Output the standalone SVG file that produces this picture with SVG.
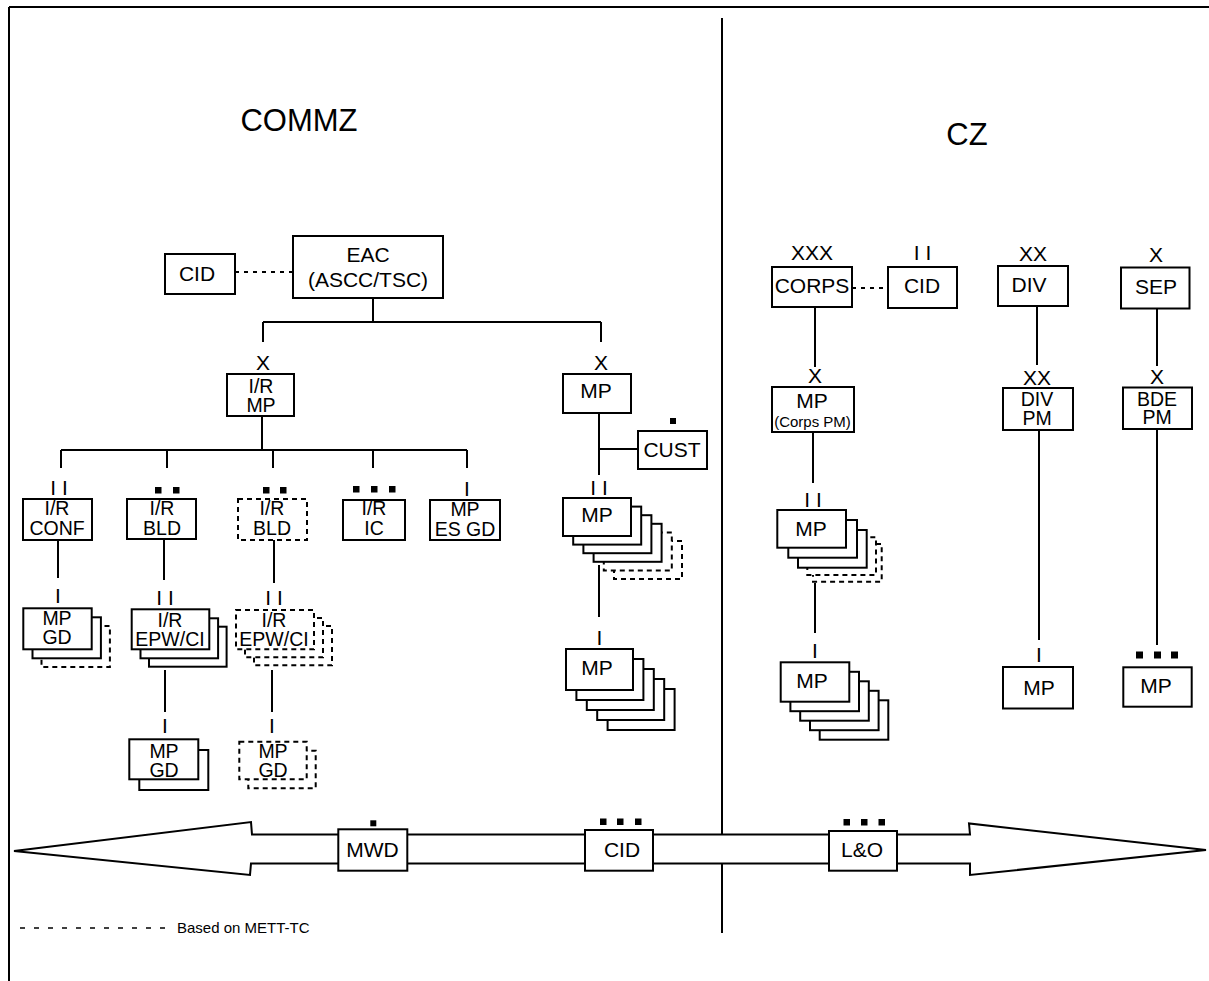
<svg xmlns="http://www.w3.org/2000/svg" width="1209" height="981" viewBox="0 0 1209 981">
<style>
.box{fill:#fff;stroke:#000;stroke-width:2}
.dbox{fill:#fff;stroke:#000;stroke-width:2;stroke-dasharray:5 4}
.ln{fill:none;stroke:#000;stroke-width:2}
.dot{fill:none;stroke:#000;stroke-width:2;stroke-dasharray:4 5}
.sq{fill:#000}
text{font-family:"Liberation Sans",Arial,Helvetica,sans-serif;font-size:21px;text-anchor:middle;fill:#000}
.t2{font-size:19.5px}
.sm{font-size:15px}
.big{font-size:31px}
.leg{font-size:15px;text-anchor:start}
</style>
<rect x="0" y="0" width="1209" height="981" fill="#fff"/>
<g id="frame">
<path class="ln" d="M9 7H1209M9 7V981"/>
<path class="ln" d="M722 18V933"/>
<text class="big" x="299" y="131">COMMZ</text>
<text class="big" x="967" y="145">CZ</text>
</g>
<g id="connectors">
<path class="dot" d="M235 272H293"/>
<path class="ln" d="M373 298V322M263 322H601M263 322V342M601 322V342"/>
<path class="ln" d="M262 416V450M61 450H467M61 450V468M167 450V468M273 450V468M373 450V468M467 450V468"/>
<path class="ln" d="M58 540V578M164 539V580M274 540V583"/>
<path class="ln" d="M165 670V712M272 670V712"/>
<path class="ln" d="M599 413V475M599 449H638M599 565V617"/>
<path class="dot" d="M852 288H888"/>
<path class="ln" d="M815 307V367M813 432V483M815 583V633"/>
<path class="ln" d="M1037 306V365M1039 430V640M1157 308V366M1157 429V645"/>
</g>
<g id="cid-left"><rect class="box" x="165" y="254" width="70" height="40"/><text x="197" y="281">CID</text></g>
<g id="eac"><rect class="box" x="293" y="236" width="150" height="62"/><text x="368" y="262">EAC</text><text x="368" y="287">(ASCC/TSC)</text></g>
<g id="ir-mp"><text x="263" y="370">X</text><rect class="box" x="227" y="374" width="67" height="42"/><text class="t2" x="261" y="393">I/R</text><text class="t2" x="261" y="411.5">MP</text></g>
<g id="mp-bde"><text x="601" y="370">X</text><rect class="box" x="563" y="374" width="68" height="39"/><text x="596" y="398">MP</text></g>
<g id="cust"><rect class="sq" x="670" y="418" width="6" height="6"/><rect class="box" x="638" y="431" width="69" height="38"/><text x="672" y="457">CUST</text></g>
<g id="ir-conf"><text x="59" y="495">I I</text><rect class="box" x="23" y="499" width="69" height="41"/><text class="t2" x="57" y="515">I/R</text><text class="t2" x="57" y="534.5">CONF</text></g>
<g id="ir-bld"><rect class="sq" x="155" y="487" width="6.5" height="6.5"/><rect class="sq" x="173" y="487" width="6.5" height="6.5"/><rect class="box" x="127" y="499" width="69" height="40"/><text class="t2" x="162" y="515">I/R</text><text class="t2" x="162" y="534.5">BLD</text></g>
<g id="ir-bld-mett"><rect class="sq" x="263" y="487" width="6.5" height="6.5"/><rect class="sq" x="280" y="487" width="6.5" height="6.5"/><rect class="dbox" x="238" y="499" width="69" height="41"/><text class="t2" x="272" y="515">I/R</text><text class="t2" x="272" y="534.5">BLD</text></g>
<g id="ir-ic"><rect class="sq" x="353" y="486" width="6.5" height="6.5"/><rect class="sq" x="371" y="486" width="6.5" height="6.5"/><rect class="sq" x="389" y="486" width="6.5" height="6.5"/><rect class="box" x="343" y="500" width="62" height="40"/><text class="t2" x="374" y="515">I/R</text><text class="t2" x="374" y="534.5">IC</text></g>
<g id="mp-esgd"><text x="467" y="496">I</text><rect class="box" x="430" y="500" width="70" height="40"/><text class="t2" x="465" y="515.5">MP</text><text class="t2" x="465" y="536">ES GD</text></g>
<g id="mp-gd-conf"><text x="58" y="603">I</text><rect class="dbox" x="41.5" y="626" width="68.4" height="41"/><rect class="box" x="32.5" y="617.3" width="68.4" height="41"/><rect class="box" x="23.3" y="608.3" width="68.4" height="41"/><text class="t2" x="57" y="625">MP</text><text class="t2" x="57" y="643.5">GD</text></g>
<g id="ir-epw"><text x="165" y="605">I I</text><rect class="box" x="149" y="626.7" width="77.6" height="40"/><rect class="box" x="140.5" y="618.3" width="77.6" height="40"/><rect class="box" x="131.7" y="609.3" width="77.6" height="40"/><text class="t2" x="170" y="626.5">I/R</text><text class="t2" x="170" y="646">EPW/CI</text></g>
<g id="ir-epw-mett"><text x="274" y="605">I I</text><rect class="dbox" x="254" y="626" width="78" height="39.3"/><rect class="dbox" x="245" y="618" width="78" height="39.3"/><rect class="dbox" x="236" y="610" width="78" height="39.3"/><text class="t2" x="274" y="626.5">I/R</text><text class="t2" x="274" y="646">EPW/CI</text></g>
<g id="mp-gd-bld"><text x="165" y="733">I</text><rect class="box" x="139.3" y="750" width="69" height="40"/><rect class="box" x="129.3" y="739.3" width="69" height="40"/><text class="t2" x="164" y="758">MP</text><text class="t2" x="164" y="777">GD</text></g>
<g id="mp-gd-mett"><text x="272" y="733">I</text><rect class="dbox" x="248.3" y="750.7" width="67.4" height="37.6"/><rect class="dbox" x="239.3" y="741.7" width="67.4" height="37.6"/><text class="t2" x="273" y="758">MP</text><text class="t2" x="273" y="777">GD</text></g>
<g id="mp-bn-commz"><text x="599" y="495">I I</text><rect class="dbox" x="614" y="541" width="68" height="38"/><rect class="dbox" x="603.8" y="532.4" width="68" height="38"/><rect class="box" x="593.6" y="523.8" width="68" height="38"/><rect class="box" x="583.4" y="515.2" width="68" height="38"/><rect class="box" x="573.2" y="506.6" width="68" height="38"/><rect class="box" x="563" y="498" width="68" height="38"/><text x="597" y="522">MP</text></g>
<g id="mp-co-commz"><text x="599.5" y="645">I</text><rect class="box" x="607.6" y="689" width="67" height="41"/><rect class="box" x="597.2" y="679" width="67" height="41"/><rect class="box" x="586.8" y="669" width="67" height="41"/><rect class="box" x="576.4" y="659" width="67" height="41"/><rect class="box" x="566" y="649" width="67" height="41"/><text x="597" y="675">MP</text></g>
<g id="corps"><text x="812" y="260">XXX</text><rect class="box" x="772" y="267" width="80" height="40"/><text x="812" y="293">CORPS</text></g>
<g id="cid-corps"><text x="922.5" y="260">I I</text><rect class="box" x="888" y="267" width="69" height="41"/><text x="922" y="293">CID</text></g>
<g id="mp-corps-pm"><text x="815" y="383">X</text><rect class="box" x="772" y="387" width="82" height="45"/><text x="812" y="408">MP</text><text class="sm" x="812.5" y="426.5">(Corps PM)</text></g>
<g id="mp-bn-cz"><text x="813" y="506.5">I I</text><rect class="dbox" x="813" y="544" width="68.7" height="37.7"/><rect class="dbox" x="807.3" y="537.3" width="68.7" height="37.7"/><rect class="box" x="798" y="530" width="68.7" height="37.7"/><rect class="box" x="788.3" y="520" width="68.7" height="37.7"/><rect class="box" x="777.3" y="510" width="68.7" height="37.7"/><text x="811" y="536">MP</text></g>
<g id="mp-co-cz"><text x="815" y="658">I</text><rect class="box" x="819.7" y="700.3" width="68.6" height="39.4"/><rect class="box" x="810" y="690.8" width="68.6" height="39.4"/><rect class="box" x="800.2" y="681.3" width="68.6" height="39.4"/><rect class="box" x="790.4" y="671.8" width="68.6" height="39.4"/><rect class="box" x="780.7" y="662.3" width="68.6" height="39.4"/><text x="812" y="688">MP</text></g>
<g id="div"><text x="1033" y="261">XX</text><rect class="box" x="998" y="266" width="70" height="40"/><text x="1029" y="292">DIV</text></g>
<g id="div-pm"><text x="1037" y="385">XX</text><rect class="box" x="1003" y="388" width="70" height="42"/><text class="t2" x="1037" y="406">DIV</text><text class="t2" x="1037" y="424.5">PM</text></g>
<g id="mp-div"><text x="1039" y="662">I</text><rect class="box" x="1003" y="667" width="70" height="41.5"/><text x="1039" y="695">MP</text></g>
<g id="sep"><text x="1156" y="262">X</text><rect class="box" x="1121" y="267.5" width="68.5" height="41"/><text x="1156" y="294">SEP</text></g>
<g id="bde-pm"><text x="1157" y="384">X</text><rect class="box" x="1123" y="387.5" width="69" height="41.5"/><text class="t2" x="1157" y="406">BDE</text><text class="t2" x="1157" y="424">PM</text></g>
<g id="mp-sep"><rect class="sq" x="1136" y="651.5" width="7" height="7"/><rect class="sq" x="1154" y="651.5" width="7" height="7"/><rect class="sq" x="1171" y="651.5" width="7" height="7"/><rect class="box" x="1123.3" y="667.3" width="68.4" height="39.4"/><text x="1156" y="693">MP</text></g>
<g id="arrow"><path class="box" d="M14 851L251 822L252 834.5H970L969 823.5L1206 850L970 875L970 863.5H251L250 875Z"/></g>
<g id="mwd"><rect class="sq" x="370.3" y="820.3" width="6" height="6"/><rect class="box" x="338.3" y="829.3" width="69" height="41.4"/><text x="372.5" y="857">MWD</text></g>
<g id="cid-bottom"><rect class="sq" x="600" y="818.5" width="6.5" height="6.5"/><rect class="sq" x="617" y="818.5" width="6.5" height="6.5"/><rect class="sq" x="635" y="818.5" width="6.5" height="6.5"/><rect class="box" x="585" y="830" width="68" height="40.7"/><text x="622" y="857">CID</text></g>
<g id="lo"><rect class="sq" x="843.5" y="819" width="6.5" height="6.5"/><rect class="sq" x="861" y="819" width="6.5" height="6.5"/><rect class="sq" x="878.5" y="819" width="6.5" height="6.5"/><rect class="box" x="829" y="831" width="68" height="39.7"/><text x="862" y="857">L&amp;O</text></g>
<g id="legend"><path d="M20 928H166" fill="none" stroke="#000" stroke-width="1.5" stroke-dasharray="5 9"/><text class="leg" x="177" y="933">Based on METT-TC</text></g>
</svg>
